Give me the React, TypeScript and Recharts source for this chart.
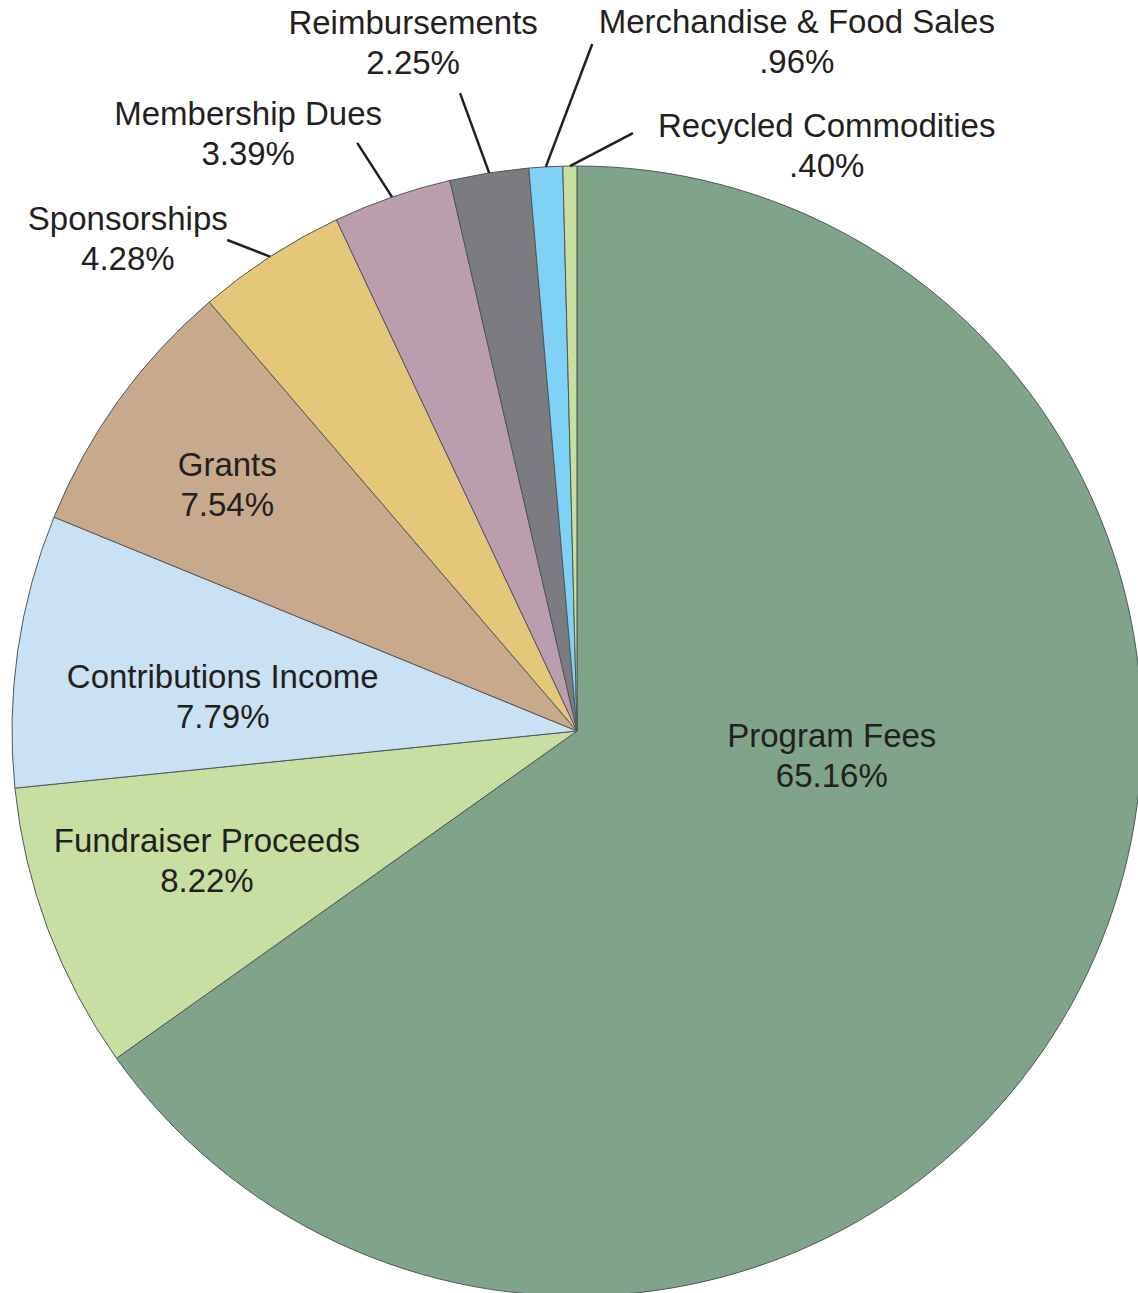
import { PieChart, Pie, Cell } from "recharts"

const categories = [
  "Program Fees",
  "Fundraiser Proceeds",
  "Contributions Income",
  "Grants",
  "Sponsorships",
  "Membership Dues",
  "Reimbursements",
  "Merchandise & Food Sales",
  "Recycled Commodities",
]

const shares = [65.16, 8.22, 7.79, 7.54, 4.28, 3.39, 2.25, 0.96, 0.4]

const colors = [
  "#7fa48a",
  "#c8dfa2",
  "#c9e1f4",
  "#c8a98b",
  "#e6c77a",
  "#bc9dad",
  "#7b7c80",
  "#80d1f6",
  "#c8dfa2",
]

// label placement, in units of the pie radius, relative to the centre
const labelSpots = [
  { x: 0.451, y: 0.043, leader: null },
  { x: -0.655, y: 0.23, leader: null },
  { x: -0.627, y: -0.061, leader: null },
  { x: -0.619, y: -0.437, leader: null },
  { x: -0.795, y: -0.872, leader: { x: -0.619, y: -0.869 } },
  { x: -0.582, y: -1.058, leader: { x: -0.389, y: -1.041 } },
  { x: -0.29, y: -1.218, leader: { x: -0.207, y: -1.129 } },
  { x: 0.389, y: -1.22, leader: { x: 0.027, y: -1.216 } },
  { x: 0.442, y: -1.037, leader: { x: 0.099, y: -1.058 } },
]

const data = categories.map((name, i) => ({ name, value: shares[i] }))

const pctText = (v: number) => v.toFixed(2).replace(/^0/, "") + "%"

const RAD = Math.PI / 180

function renderLabel(props: any) {
  const { cx, cy, outerRadius, midAngle, index } = props
  const spot = labelSpots[index]
  const tx = cx + spot.x * outerRadius
  const ty = cy + spot.y * outerRadius
  let line = null
  if (spot.leader) {
    const ex = cx + outerRadius * Math.cos(-midAngle * RAD)
    const ey = cy + outerRadius * Math.sin(-midAngle * RAD)
    line = (
      <line
        x1={cx + spot.leader.x * outerRadius}
        y1={cy + spot.leader.y * outerRadius}
        x2={ex}
        y2={ey}
        stroke="#231f20"
        strokeWidth={2.5}
      />
    )
  }
  return (
    <g key={`lbl-${index}`}>
      {line}
      <text
        x={tx}
        y={ty}
        textAnchor="middle"
        fill="#231f20"
        fontSize={33}
        fontFamily="'Liberation Sans', Arial, sans-serif"
      >
        <tspan x={tx} y={ty - 20} dominantBaseline="central">
          {categories[index]}
        </tspan>
        <tspan x={tx} y={ty + 20} dominantBaseline="central">
          {pctText(shares[index])}
        </tspan>
      </text>
    </g>
  )
}

export default function App() {
  return (
    <div style={{ position: "absolute", left: 0, top: 0, background: "#fff" }}>
      <PieChart width={1138} height={1293} margin={{ top: 0, right: 0, bottom: 0, left: 0 }}>
        <Pie
          data={data}
          dataKey="value"
          nameKey="name"
          cx={577}
          cy={731}
          outerRadius={565}
          startAngle={90}
          endAngle={-270}
          stroke="#50565c"
          strokeWidth={1}
          label={renderLabel}
          labelLine={false}
          isAnimationActive={false}
        >
          {data.map((d, i) => (
            <Cell key={d.name} fill={colors[i]} />
          ))}
        </Pie>
      </PieChart>
    </div>
  )
}
